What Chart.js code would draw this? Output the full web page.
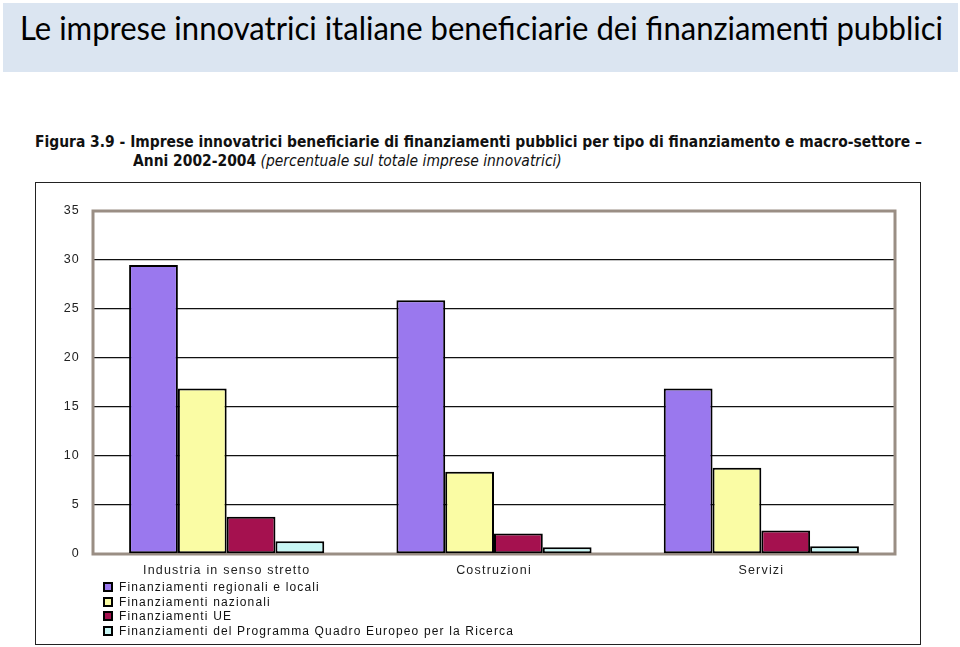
<!DOCTYPE html>
<html>
<head>
<meta charset="utf-8">
<script src="https://cdn.jsdelivr.net/npm/chart.js@4"></script>
<style>
  body { margin: 0; background: #fff; width: 960px; height: 647px; position: relative; overflow: hidden; font-family: "Liberation Sans", Arial, sans-serif; }
  #titleBar { position: absolute; left: 3px; top: 3px; width: 955px; height: 69px; background: #dbe5f1; }
  #title { position: absolute; left: 20px; top: 7px; font-family: Lato, "Open Sans", sans-serif; font-size: 33px; color: #000; white-space: nowrap; transform-origin: left top; }
  .cap { position: absolute; white-space: nowrap; font-family: "Liberation Sans Narrow", "DejaVu Sans Condensed", "Liberation Sans", sans-serif; font-size: 15px; color: #111; transform-origin: left top; }
  #cap1 { left: 35px; top: 133px; font-weight: bold; }
  #cap2 { left: 133px; top: 152px; }
  #cap2 b { font-weight: bold; }
  #cap2 i { font-style: italic; }
  #frame { position: absolute; left: 35px; top: 182px; width: 884px; height: 461px; border: 1.5px solid #222; }
  #wrap { position: absolute; left: 36px; top: 184px; width: 882px; height: 398px; }
  #legend { position: absolute; left: 103px; top: 580px; font-size: 12px; letter-spacing: 1.15px; color: #111; }
  #legend div { height: 14.5px; line-height: 14.5px; white-space: nowrap; }
  #legend span { display: inline-block; width: 6px; height: 6px; border: 2px solid #000; margin-right: 6px; vertical-align: -1px; }
</style>
</head>
<body>
<div id="titleBar"></div>
<div id="title">Le imprese innovatrici italiane beneficiarie dei finanziamenti pubblici</div>
<div id="cap1" class="cap">Figura 3.9 - Imprese innovatrici beneficiarie di finanziamenti pubblici per tipo di finanziamento e macro-settore –</div>
<div id="cap2" class="cap"><b>Anni 2002-2004</b> <i>(percentuale sul totale imprese innovatrici)</i></div>
<div id="frame"></div>
<div id="wrap"><canvas id="chart"></canvas></div>
<div id="legend"></div>
<script>
// data (percent of innovative firms)
const categories = ["Industria in senso stretto", "Costruzioni", "Servizi"];
const seriesNames = [
  "Finanziamenti regionali e locali",
  "Finanziamenti nazionali",
  "Finanziamenti UE",
  "Finanziamenti del Programma Quadro Europeo per la Ricerca"
];
const regionali = [29.5, 25.9, 16.9];
const nazionali = [16.9, 8.4, 8.8];
const ue = [3.8, 2.1, 2.4];
const programmaQuadro = [1.3, 0.7, 0.8];
const yTicks = [0, 5, 10, 15, 20, 25, 30, 35];

const colors = ["#9a78ee", "#fafca4", "#a5114f", "#c8f6f4"];

// squeeze text to the widths seen in the picture
function fitWidth(id, target) {
  const el = document.getElementById(id);
  const w = el.getBoundingClientRect().width;
  el.style.transform = "scaleX(" + (target / w) + ")";
  return target / w;
}
fitWidth("title", 923);
const s = fitWidth("cap1", 887);
document.getElementById("cap2").style.transform = "scaleX(" + s + ")";

// grey frame round the plot area, drawn under the bars
const plotFrame = {
  id: "plotFrame",
  beforeDraw(chart) {
    chart.ctx.letterSpacing = "1.2px";
  },
  beforeDatasetsDraw(chart) {
    const a = chart.chartArea;
    const ctx = chart.ctx;
    ctx.save();
    ctx.strokeStyle = "#9a8e84";
    ctx.lineWidth = 3;
    ctx.strokeRect(a.left, a.top, a.right - a.left, a.bottom - a.top);
    ctx.restore();
  }
};

const values = [regionali, nazionali, ue, programmaQuadro];

const chart = new Chart(document.getElementById("chart"), {
  type: "bar",
  data: {
    labels: categories,
    datasets: values.map((v, i) => ({
      label: seriesNames[i],
      data: v,
      backgroundColor: colors[i],
      borderColor: "#000",
      borderWidth: 2,
      borderSkipped: false
    }))
  },
  options: {
    responsive: true,
    maintainAspectRatio: false,
    animation: false,
    layout: { padding: { left: 13, right: 23, top: 27, bottom: 0 } },
    plugins: { legend: { display: false }, tooltip: { enabled: false } },
    datasets: { bar: { categoryPercentage: 0.73, barPercentage: 1 } },
    scales: {
      x: {
        grid: { display: false, drawTicks: false },
        border: { display: false },
        ticks: { color: "#222", font: { family: "Liberation Sans", size: 12.5 }, padding: 9 },
        afterFit(scale) { scale.height = 28; }
      },
      y: {
        min: 0,
        max: 35,
        afterBuildTicks(scale) { scale.ticks = yTicks.map(v => ({ value: v })); },
        grid: { color: "#111", lineWidth: 1.3, drawTicks: false },
        border: { display: false },
        ticks: { color: "#222", font: { family: "Liberation Sans", size: 12.5 }, padding: 13 },
        afterFit(scale) { scale.width = 44; }
      }
    }
  },
  plugins: [plotFrame]
});

// legend, one entry per line
const legend = document.getElementById("legend");
chart.data.datasets.forEach(ds => {
  const row = document.createElement("div");
  const box = document.createElement("span");
  box.style.background = ds.backgroundColor;
  row.appendChild(box);
  row.appendChild(document.createTextNode(ds.label));
  legend.appendChild(row);
});
</script>
</body>
</html>
